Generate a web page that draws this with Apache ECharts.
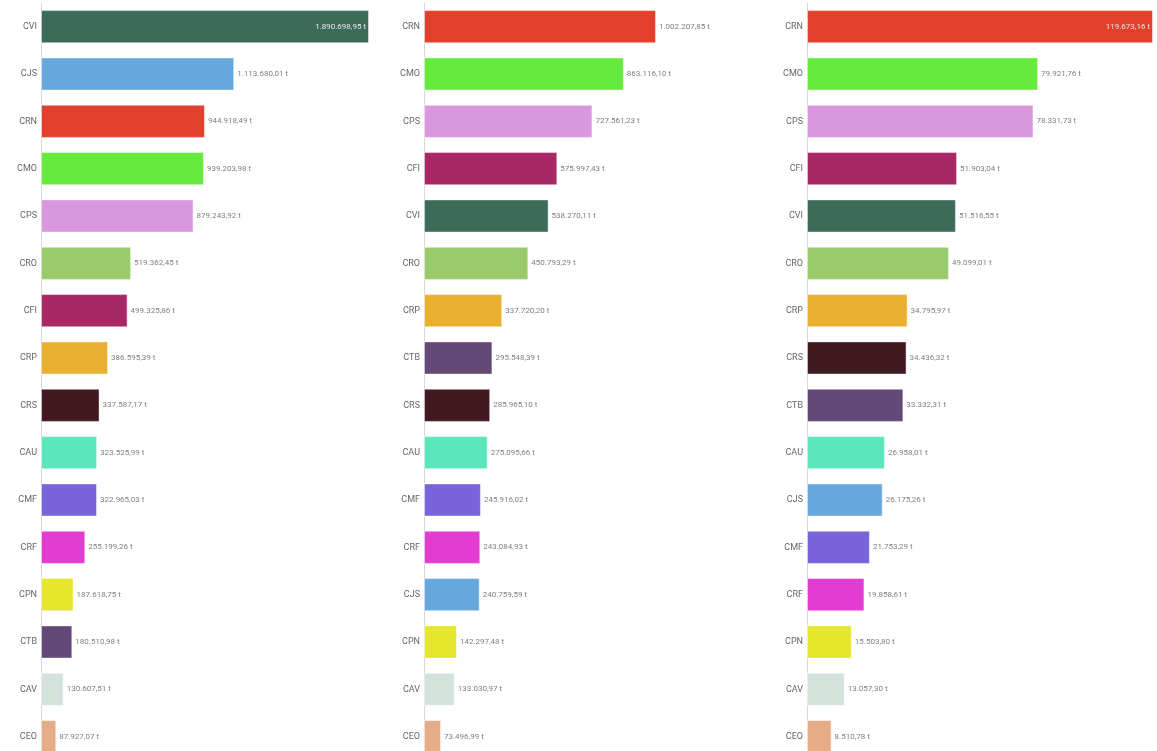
<!DOCTYPE html>
<html>
<head>
<meta charset="utf-8">
<script src="https://cdn.jsdelivr.net/npm/echarts@6/dist/echarts.min.js"></script>
<style>
html,body{margin:0;padding:0;background:#fff;overflow:hidden;}
#chart{width:1157px;height:775px;}
</style>
</head>
<body>
<div id="chart"></div>
<script>
// ---- data ----
const categories1 = ['CVI','CJS','CRN','CMO','CPS','CRO','CFI','CRP','CRS','CAU','CMF','CRF','CPN','CTB','CAV','CEO'];
const values1 = [1890698.95,1113680.01,944918.49,939203.98,879243.92,519362.45,499325.86,386595.39,337587.17,323525.99,322965.03,255199.26,187618.75,180510.98,130607.51,87927.07];

const categories2 = ['CRN','CMO','CPS','CFI','CVI','CRO','CRP','CTB','CRS','CAU','CMF','CRF','CJS','CPN','CAV','CEO'];
const values2 = [1002207.85,863116.10,727561.23,575997.43,538270.11,450793.29,337720.20,295548.39,285965.10,275095.66,245916.02,243084.93,240759.59,142297.48,133030.97,73496.99];

const categories3 = ['CRN','CMO','CPS','CFI','CVI','CRO','CRP','CRS','CTB','CAU','CJS','CMF','CRF','CPN','CAV','CEO'];
const values3 = [119673.16,79921.76,78331.73,51903.04,51516.55,49099.01,34795.97,34436.32,33332.31,26958.01,26175.26,21753.29,19858.61,15503.80,13057.30,8510.78];

const unit = 't';

// ---- styling ----
const colorMap = {
  CVI:'#3d6b59', CJS:'#66a8dc', CRN:'#e3402b', CMO:'#65ea3e', CPS:'#d897de',
  CRO:'#9aca69', CFI:'#a82867', CRP:'#e8b02e', CRS:'#401a20', CAU:'#5ce6bc',
  CMF:'#7a64dc', CRF:'#e33cd0', CPN:'#e6e72c', CTB:'#634878', CAV:'#d3e3dc',
  CEO:'#e6ac88'
};

function fmt(v){
  const parts = v.toFixed(2).split('.');
  const intPart = parts[0].replace(/\B(?=(\d{3})+(?!\d))/g, '.');
  return intPart + ',' + parts[1] + ' ' + unit;
}

const panels = [
  {cats:categories1, vals:values1, left:41, width:328, inside:true},
  {cats:categories2, vals:values2, left:424, width:232, inside:false},
  {cats:categories3, vals:values3, left:807, width:346, inside:true}
];

const grid = [], xAxis = [], yAxis = [], series = [];
panels.forEach((p, i) => {
  grid.push({left:p.left, width:p.width, top:3, height:757.3, containLabel:false, outerBoundsMode:'none'});
  const maxV = Math.max.apply(null, p.vals);
  xAxis.push({type:'value', gridIndex:i, min:0, max:maxV, show:false});
  yAxis.push({
    type:'category', gridIndex:i, inverse:true, data:p.cats,
    axisLine:{show:true, lineStyle:{color:'#d9d9d9', width:1}},
    axisTick:{show:false},
    axisLabel:{color:'#666666', fontSize:9, fontFamily:'Roboto, sans-serif', margin:4}
  });
  series.push({
    type:'bar', xAxisIndex:i, yAxisIndex:i, barCategoryGap:'30%',
    silent:true, animation:false,
    data:p.vals.map((v, k) => {
      const item = {
        value:v,
        itemStyle:{color:colorMap[p.cats[k]], borderColor:'rgba(255,255,255,0.45)', borderWidth:1}
      };
      if (p.inside && v === maxV) {
        item.label = {position:'insideRight', distance:3, color:'#e8e8e8'};
      }
      return item;
    }),
    label:{
      show:true, position:'right', distance:3,
      color:'#808080', fontSize:8, fontFamily:'Roboto, sans-serif',
      formatter:(pp) => fmt(pp.value)
    }
  });
});

const chart = echarts.init(document.getElementById('chart'), null, {renderer:'canvas'});
chart.setOption({animation:false, grid, xAxis, yAxis, series});
</script>
</body>
</html>
